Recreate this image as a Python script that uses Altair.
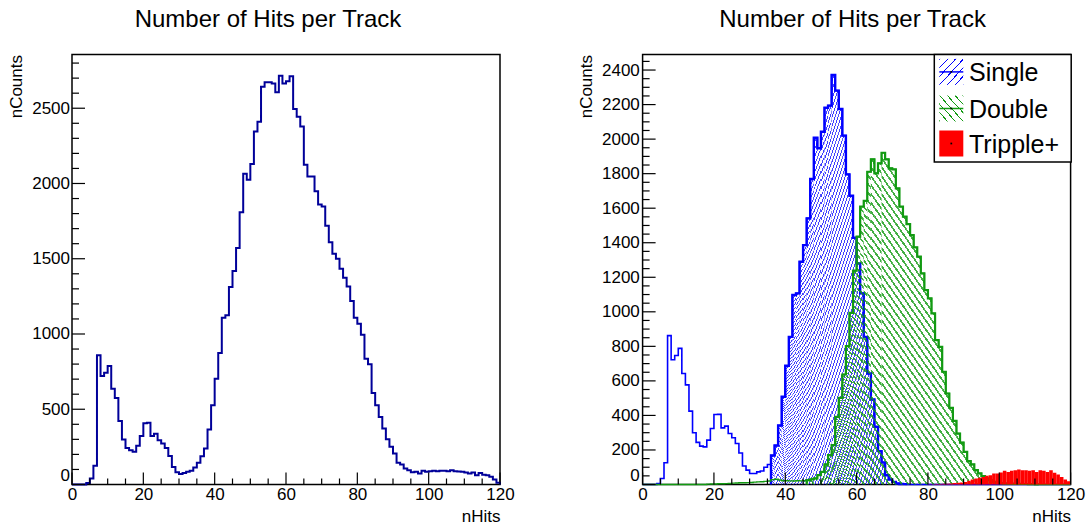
import altair as alt
import pandas as pd

# ---------------- data ----------------
BIN_EDGES = list(range(0, 121))  # 120 bins of width 1 in nHits

ALL_HITS = [0, 0, 0, 0, 10, 40, 124, 858, 721, 743,
            787, 637, 575, 422, 299, 243, 228, 217, 257, 323,
            407, 411, 323, 338, 294, 272, 243, 190, 117, 82,
            69, 77, 84, 91, 113, 144, 188, 239, 365, 526,
            703, 874, 1108, 1124, 1312, 1418, 1571, 1809, 2064, 2024,
            2130, 2345, 2411, 2643, 2672, 2672, 2665, 2606, 2716, 2665,
            2679, 2712, 2495, 2444, 2378, 2124, 2046, 2046, 1949, 1860,
            1847, 1719, 1610, 1533, 1500, 1433, 1374, 1316, 1219, 1108,
            1068, 995, 836, 799, 608, 526, 449, 372, 301, 250,
            206, 144, 133, 106, 95, 82, 84, 73, 91, 84,
            88, 91, 88, 91, 91, 88, 95, 88, 86, 84,
            80, 73, 80, 62, 77, 64, 62, 51, 33, 11]

SINGLE = [0, 0, 0, 0, 6, 35, 126, 862, 722, 747,
          788, 643, 577, 425, 300, 244, 222, 218, 257, 324,
          405, 406, 328, 338, 295, 271, 237, 182, 107, 83,
          64, 64, 73, 78, 100, 116, 168, 226, 342, 508,
          688, 855, 1097, 1107, 1290, 1386, 1541, 1769, 2008, 1947,
          2043, 2182, 2194, 2371, 2281, 2174, 2020, 1796, 1672, 1429,
          1280, 1107, 855, 643, 492, 334, 193, 127, 54, 29,
          15, 6, 3, 2, 0, 0, 0, 0, 0, 0,
          0, 0, 0, 0, 0, 0, 0, 0, 0, 0,
          0, 0, 0, 0, 0, 0, 0, 0, 0, 0,
          0, 0, 0, 0, 0, 0, 0, 0, 0, 0,
          0, 0, 0, 0, 0, 0, 0, 0, 0, 0]

DOUBLE = [0, 0, 0, 0, 0, 0, 0, 0, 0, 0,
          0, 0, 0, 0, 0, 0, 0, 0, 2, 3,
          3, 4, 4, 5, 6, 8, 9, 10, 10, 11,
          12, 14, 15, 16, 18, 20, 28, 30, 26, 22,
          22, 21, 20, 22, 21, 22, 25, 30, 35, 54,
          73, 116, 170, 228, 392, 502, 637, 801, 994, 1238,
          1435, 1609, 1643, 1811, 1883, 1802, 1860, 1921, 1883, 1831,
          1825, 1715, 1609, 1551, 1508, 1444, 1373, 1319, 1222, 1126,
          1078, 991, 836, 797, 653, 527, 444, 369, 295, 243,
          189, 135, 116, 83, 64, 48, 35, 25, 15, 10,
          8, 6, 5, 5, 4, 4, 3, 3, 2, 2,
          1, 0, 0, 0, 0, 0, 0, 0, 0, 0]

TRIPLE = [0] * 80 + [2, 2, 3, 3, 4, 5, 6, 8, 10, 12,
                     15, 21, 29, 35, 39, 44, 50, 54, 64, 64,
                     70, 79, 73, 79, 83, 87, 83, 83, 79, 83,
                     73, 83, 79, 73, 83, 68, 58, 44, 29, 19]

# bin ranges drawn with hatching (the thick-outlined parts)
SINGLE_HATCH_RANGE = (36, 74)
DOUBLE_HATCH_RANGE = (46, 111)

LEGEND_LABELS = ["Single", "Double", "Tripple+"]
TITLE = "Number of Hits per Track"
X_TITLE = "nHits"
Y_TITLE = "nCounts"

X_MAJOR = [0, 20, 40, 60, 80, 100, 120]
X_MINOR = [5, 10, 15, 25, 30, 35, 45, 50, 55, 65, 70, 75, 85, 90, 95, 105, 110, 115]
YL_MAJOR = [0, 500, 1000, 1500, 2000, 2500]
YL_MINOR = [v for v in range(100, 2900, 100) if v % 500]
YR_MAJOR = list(range(0, 2401, 200))
YR_MINOR = [v for v in range(50, 2490, 50) if v % 200]

# ---------------- style / layout ----------------
FONT = "Liberation Sans"
W, H = 428, 430
YL_MAX = 2857
YR_MAX = 2490
PX_PER_BIN = W / 120
BLUE_DARK = "#000099"
BLUE = "#0000ff"
GREEN = "#129a12"
RED = "#ff0000"
BLUE_HATCH = "rgba(0,0,255,0.75)"
GREEN_HATCH = "rgba(18,154,18,0.8)"
CLEAR = "rgba(255,255,255,0)"


def step_df(values, start=0, end=120, closed=False):
    xs = BIN_EDGES[start:end] + [BIN_EDGES[end], BIN_EDGES[end]]
    ys = list(values[start:end]) + [values[end - 1], 0]
    if closed:
        xs = [BIN_EDGES[start]] + xs
        ys = [0] + ys
    return pd.DataFrame({"x": xs, "y": ys, "i": list(range(len(xs)))})


def hatch_big(color, bw, bh, forward=True, spacing=9.0):
    """Hatching for a large mark: the gradient lives on a square of side max(bw, bh);
    stripes sit on whole 1/255 steps of the gradient so they render evenly."""
    S = max(bw, bh)
    a_min = (1.5 + min(bw, bh) / (2 * S)) / 2
    for P in (4, 3, 2):
        a = spacing * 255 / (2 * S * P)
        if a >= a_min:
            break
    stops = []
    k = 0
    while P * k + 1 <= 255:
        o0, o1 = P * k / 255, (P * k + 1) / 255
        stops += [{"offset": o0, "color": CLEAR}, {"offset": o0, "color": color},
                  {"offset": o1, "color": color}, {"offset": o1, "color": CLEAR}]
        k += 1
    geo = {"x1": 0, "y1": 0, "x2": a, "y2": a} if forward else {"x1": 0, "y1": 1, "x2": a, "y2": 1 - a}
    return {"gradient": "linear", "stops": stops, **geo}


def hatch_small(color, bw, bh, spacing, lw, forward=True):
    L = 2 * max(bw, bh)
    stops = []
    k = 0
    while k * spacing / L < 1:
        a = k * spacing / L
        b = min(a + lw / L, 1)
        stops += [{"offset": a, "color": CLEAR}, {"offset": a, "color": color},
                  {"offset": b, "color": color}, {"offset": b, "color": CLEAR}]
        k += 1
    geo = {"x1": 0, "y1": 0, "x2": 1, "y2": 1} if forward else {"x1": 0, "y1": 1, "x2": 1, "y2": 0}
    return {"gradient": "linear", "stops": stops, **geo}


def x_axis():
    return alt.Axis(values=X_MAJOR, format="d", ticks=False, tickSize=0, domain=False, grid=False,
                    labelFont=FONT, labelFontSize=17, labelColor="black", labelPadding=2,
                    labelFlush=False, labelOverlap=False, labelBaseline="top",
                    title=X_TITLE, titleFont=FONT, titleFontSize=17, titleFontWeight="normal",
                    titleColor="black", titleX=W, titleY=31.5, titleAlign="right",
                    titleBaseline="middle")


def y_axis(values, pad, tx):
    return alt.Axis(values=values, format="d", ticks=False, tickSize=0, domain=False, grid=False,
                    labelFont=FONT, labelFontSize=17, labelColor="black", labelPadding=pad,
                    labelFlush=False, labelOverlap=False,
                    labelBaseline={"condition": {"test": "datum.value === 0", "value": "bottom"},
                                   "value": "middle"},
                    title=Y_TITLE, titleFont=FONT, titleFontSize=17, titleFontWeight="normal",
                    titleColor="black", titleX=tx, titleY=0, titleAngle=270,
                    titleAlign="right", titleBaseline="middle")


def panel(ymax, ymajor, ypad, ytitle_x):
    xa = x_axis()
    ya = y_axis(ymajor, ypad, ytitle_x)

    def X(field="x"):
        return alt.X(f"{field}:Q", scale=alt.Scale(domain=[0, 120], nice=False, zero=False), axis=xa)

    def Y(field="y"):
        return alt.Y(f"{field}:Q", scale=alt.Scale(domain=[0, ymax], nice=False), axis=ya)

    return X, Y


def tick_layers(X, Y, ymajor, yminor):
    layers = []
    for vals, ln in ((X_MAJOR, 12), (X_MINOR, 6)):
        layers.append(alt.Chart(pd.DataFrame({"x": vals})).mark_rule(color="black", strokeWidth=1.2)
                      .encode(x=X(), y=alt.value(H), y2=alt.value(H - ln)))
    for vals, ln in ((ymajor, 13), (yminor, 7)):
        layers.append(alt.Chart(pd.DataFrame({"y": vals})).mark_rule(color="black", strokeWidth=1.2)
                      .encode(y=Y(), x=alt.value(0), x2=alt.value(ln)))
    return layers


def title_layer(dx):
    return alt.Chart(pd.DataFrame({"t": [TITLE]})).mark_text(
        font=FONT, fontSize=24, color="black", align="center", baseline="alphabetic"
    ).encode(x=alt.value(W / 2 + dx), y=alt.value(-27.6), text="t:N")


# ---------------- left panel ----------------
XL, YL = panel(YL_MAX, YL_MAJOR, 2.5, -55.5)
left_line = alt.Chart(step_df(ALL_HITS)).mark_line(
    interpolate="step-after", color=BLUE_DARK, strokeWidth=2
).encode(x=XL(), y=YL(), order="i:Q")

left = alt.layer(left_line, *tick_layers(XL, YL, YL_MAJOR, YL_MINOR), title_layer(-18)).properties(
    width=W, height=H)

# ---------------- right panel ----------------
XR, YR = panel(YR_MAX, YR_MAJOR, 3.3, -56.3)

s0, s1 = SINGLE_HATCH_RANGE
d0, d1 = DOUBLE_HATCH_RANGE
HS = H * max(SINGLE[s0:s1]) / YR_MAX
HD = H * max(DOUBLE[d0:d1]) / YR_MAX
WS = (s1 - s0) * PX_PER_BIN
WD = (d1 - d0) * PX_PER_BIN

single_thin = alt.Chart(step_df(SINGLE)).mark_line(
    interpolate="step-after", color=BLUE, strokeWidth=1.6
).encode(x=XR(), y=YR(), order="i:Q")
single_area = alt.Chart(step_df(SINGLE, s0, s1, True)).mark_area(
    interpolate="step-after", fill=hatch_big(BLUE_HATCH, WS, HS, True), opacity=1
).encode(x=XR(), y=YR(), order="i:Q")
single_line = alt.Chart(step_df(SINGLE, s0, s1, True)).mark_line(
    interpolate="step-after", color=BLUE, strokeWidth=2.4
).encode(x=XR(), y=YR(), order="i:Q")

double_thin = alt.Chart(step_df(DOUBLE)).mark_line(
    interpolate="step-after", color=GREEN, strokeWidth=1.4
).encode(x=XR(), y=YR(), order="i:Q")
double_area = alt.Chart(step_df(DOUBLE, d0, d1, True)).mark_area(
    interpolate="step-after", fill=hatch_big(GREEN_HATCH, WD, HD, False), opacity=1
).encode(x=XR(), y=YR(), order="i:Q")
double_line = alt.Chart(step_df(DOUBLE, d0, d1, True)).mark_line(
    interpolate="step-after", color=GREEN, strokeWidth=2.2
).encode(x=XR(), y=YR(), order="i:Q")

triple_area = alt.Chart(step_df(TRIPLE)).mark_area(
    interpolate="step-after", fill=RED, opacity=1
).encode(x=XR(), y=YR(), order="i:Q")

# legend (box + three entries)
one = pd.DataFrame({"k": [0]})
LX0, LX1, LY1 = 291.7, 428.6, 107.5
SX0, SX1, TX = 296.7, 320.7, 326.4
ROWS = [17.4, 54.0, 89.0]
legend_layers = [
    alt.Chart(one).mark_rect(fill="white", stroke="black", strokeWidth=1.5)
    .encode(x=alt.value(LX0), x2=alt.value(LX1), y=alt.value(0), y2=alt.value(LY1))
]
sym_fills = [hatch_small(BLUE, 24, 26, 8.5, 1.3, True), hatch_small(GREEN, 24, 26, 8.5, 1.3, False), RED]
sym_lines = [BLUE, GREEN, None]
for lab, cy, fill, lc in zip(LEGEND_LABELS, ROWS, sym_fills, sym_lines):
    legend_layers.append(alt.Chart(one).mark_rect(fill=fill, opacity=1)
                         .encode(x=alt.value(SX0), x2=alt.value(SX1), y=alt.value(cy - 13), y2=alt.value(cy + 13)))
    if lc:
        legend_layers.append(alt.Chart(one).mark_rule(color=lc, strokeWidth=1.5)
                             .encode(x=alt.value(SX0), x2=alt.value(SX1), y=alt.value(cy)))
    legend_layers.append(alt.Chart(one).mark_square(color="black", size=3, opacity=1)
                         .encode(x=alt.value((SX0 + SX1) / 2), y=alt.value(cy)))
    legend_layers.append(alt.Chart(pd.DataFrame({"t": [lab]})).mark_text(
        font=FONT, fontSize=25, color="black", align="left", baseline="middle")
        .encode(x=alt.value(TX), y=alt.value(cy + 1), text="t:N"))

right = alt.layer(single_thin, single_area, single_line, double_thin, double_area, double_line,
                  triple_area, *tick_layers(XR, YR, YR_MAJOR, YR_MINOR), *legend_layers,
                  title_layer(-4)).properties(width=W, height=H)

chart = alt.hconcat(left, right, spacing=142.6, bounds="flush").configure_view(
    stroke="black", strokeWidth=1.5
).properties(
    padding={"left": 6, "top": 6.5, "right": 0, "bottom": 0}, background="white"
)

chart.save("out.html", embed_options={"renderer": "svg", "actions": False})
